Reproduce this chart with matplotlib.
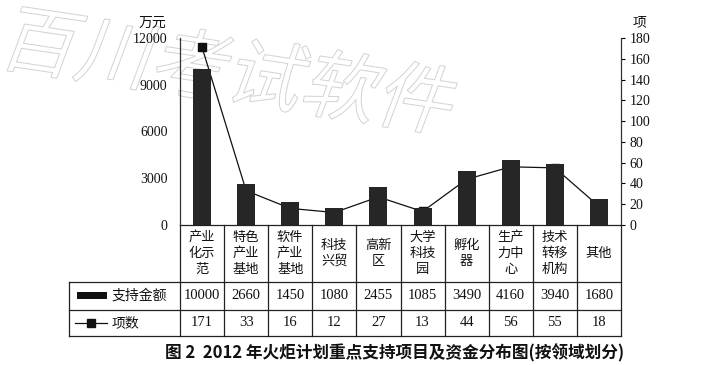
import matplotlib
matplotlib.use("Agg")
import matplotlib.pyplot as plt
from matplotlib.textpath import TextPath
from matplotlib.patches import PathPatch, Rectangle
from matplotlib.font_manager import FontProperties
from matplotlib.transforms import Affine2D, IdentityTransform, blended_transform_factory
from matplotlib.lines import Line2D

# ---- data -------------------------------------------------------------
categories = ["产业\n化示\n范", "特色\n产业\n基地", "软件\n产业\n基地", "科技\n兴贸",
              "高新\n区", "大学\n科技\n园", "孵化\n器", "生产\n力中\n心",
              "技术\n转移\n机构", "其他"]
funding = [10000, 2660, 1450, 1080, 2455, 1085, 3490, 4160, 3940, 1680]   # 万元
projects = [171, 33, 16, 12, 27, 13, 44, 56, 55, 18]                       # 项
left_ticks = [0, 3000, 6000, 9000, 12000]
right_ticks = list(range(0, 181, 20))
series_names = ["支持金额", "项数"]
title = "图 2  2012 年火炬计划重点支持项目及资金分布图(按领域划分)"
watermark = "百川考试软件"

SERIF = ["Liberation Serif", "Noto Sans CJK SC"]
CJK = ["Noto Sans CJK SC", "DejaVu Sans"]
INK = "#111111"

W, H = 715, 365
fig = plt.figure(figsize=(W / 100, H / 100), dpi=100)
fig.patch.set_facecolor("white")

# faint outlined watermark across the top
wm_path = TextPath((0, 0), watermark, size=76,
                   prop=FontProperties(family="Noto Sans CJK SC"))
wm_tf = Affine2D().skew_deg(12, 0).rotate_deg(-8.5).translate(-4, 302)
wm = PathPatch(wm_path, transform=wm_tf + IdentityTransform(),
               facecolor="none", edgecolor="#d2d2d2", lw=0.7, zorder=0)
fig.add_artist(wm)

# plot area in pixel terms
x0, x1 = 180, 621
y_top, y_bot = 38, 225
rect = [x0 / W, 1 - y_bot / H, (x1 - x0) / W, (y_bot - y_top) / H]
n = len(categories)
xs = list(range(n))

# project-count line sits underneath the bars
ax2 = fig.add_axes(rect, zorder=1)
ax2.patch.set_alpha(0)
ax2.set_xlim(-0.5, n - 0.5)
ax2.set_ylim(0, 180)
ax2.plot(xs, projects, color=INK, lw=0.9, marker="s", markersize=5.3)
ax2.yaxis.tick_right()
ax2.set_yticks(right_ticks)
ax2.set_yticklabels([str(t) for t in right_ticks], fontfamily=SERIF, fontsize=10, color=INK)
ax2.tick_params(axis="y", direction="out", length=3, pad=3, width=0.8)
ax2.set_xticks([])
for s in ["top", "left", "bottom"]:
    ax2.spines[s].set_visible(False)
ax2.spines["right"].set_color("#333333")
ax2.spines["right"].set_linewidth(0.9)

ax = fig.add_axes(rect, zorder=2)
ax.patch.set_alpha(0)
ax.set_xlim(-0.5, n - 0.5)
ax.set_ylim(0, 12000)
ax.bar(xs, funding, width=0.41, color="#262626", zorder=2)
ax.set_yticks(left_ticks)
ax.set_yticklabels([str(t) for t in left_ticks], fontfamily=SERIF, fontsize=10, color=INK)
ax.tick_params(axis="y", length=0, pad=9)
ax.set_xticks([])
for s in ["top", "right", "bottom"]:
    ax.spines[s].set_visible(False)
ax.spines["left"].set_color("#333333")
ax.spines["left"].set_linewidth(0.9)

# unit labels
fig.text(152 / W, 1 - 23 / H, "万元", fontfamily=CJK, fontsize=10, ha="center", va="center", color=INK)
fig.text(640 / W, 1 - 22 / H, "项", fontfamily=CJK, fontsize=10, ha="center", va="center", color=INK)

# ---- data table under the chart -------------------------------------
def fy(p):
    """pixel row -> axes fraction"""
    return (y_bot - p) / (y_bot - y_top)

px_per_col = (x1 - x0) / n
def fx(p):
    """pixel column -> x data value"""
    return -0.5 + (p - x0) / px_per_col

bt = blended_transform_factory(ax.transData, ax.transAxes)
row_cat_bot, row1_bot, row2_bot = 282, 309.5, 336
lx = fx(69)
lw_tab = 0.9
col = "#222222"

def hline(xa, xb, p):
    ax.add_line(Line2D([xa, xb], [fy(p), fy(p)], transform=bt, color=col, lw=lw_tab, clip_on=False))

def vline(x, pa, pb):
    ax.add_line(Line2D([x, x], [fy(pa), fy(pb)], transform=bt, color=col, lw=lw_tab, clip_on=False))

hline(-0.5, n - 0.5, y_bot)
hline(lx, n - 0.5, row_cat_bot)
hline(lx, n - 0.5, row1_bot)
hline(lx, n - 0.5, row2_bot)
for i in range(n + 1):
    vline(-0.5 + i, y_bot, row2_bot)
vline(lx, row_cat_bot, row2_bot)

cat_mid = 253.5
r1_mid = (row_cat_bot + row1_bot) / 2
r2_mid = (row1_bot + row2_bot) / 2
for i in xs:
    ax.text(i, fy(cat_mid), categories[i], transform=bt, ha="center", va="center",
            fontfamily=CJK, fontsize=9.5, linespacing=1.3, color=INK, clip_on=False)
    ax.text(i, fy(r1_mid), str(funding[i]), transform=bt, ha="center", va="center",
            fontfamily=SERIF, fontsize=10.5, color=INK, clip_on=False)
    ax.text(i, fy(r2_mid), str(projects[i]), transform=bt, ha="center", va="center",
            fontfamily=SERIF, fontsize=10.5, color=INK, clip_on=False)

# legend keys inside the table
ax.add_patch(Rectangle((fx(77), fy(r1_mid + 3.5)), fx(107) - fx(77), fy(r1_mid - 3.5) - fy(r1_mid + 3.5),
                       transform=bt, facecolor="#111111", edgecolor="none", clip_on=False))
ax.add_line(Line2D([fx(75), fx(107)], [fy(r2_mid), fy(r2_mid)], transform=bt, color=INK,
                   lw=0.9, clip_on=False))
ax.add_line(Line2D([fx(91)], [fy(r2_mid)], transform=bt, color=INK, marker="s",
                   markersize=5.5, lw=0, clip_on=False))
ax.text(fx(112), fy(r1_mid), series_names[0], transform=bt, ha="left", va="center",
        fontfamily=CJK, fontsize=10, color=INK, clip_on=False)
ax.text(fx(112), fy(r2_mid), series_names[1], transform=bt, ha="left", va="center",
        fontfamily=CJK, fontsize=10, color=INK, clip_on=False)

# caption
fig.text(395 / W, 1 - 353 / H, title, fontfamily=CJK, fontweight="bold", fontsize=12,
         ha="center", va="center", color=INK)

fig.savefig("out.png", dpi=100, facecolor="white")
